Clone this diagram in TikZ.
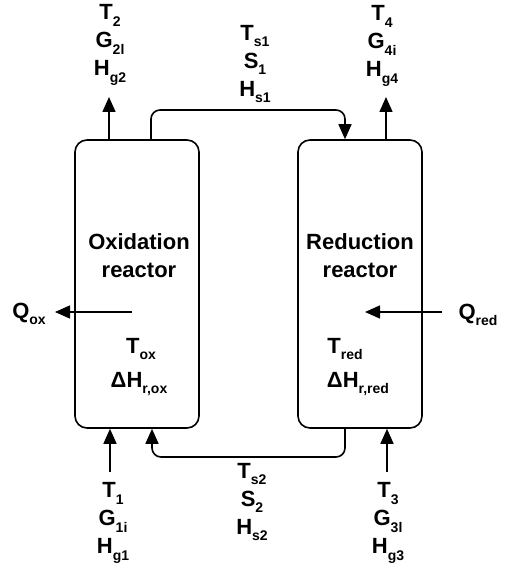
\documentclass[tikz,border=0pt]{standalone}
\usepackage{fontspec}
\setmainfont{Liberation Sans}
\usetikzlibrary{arrows.meta,positioning}
\newcommand\lo[1]{\raisebox{-.55ex}{\fontsize{14}{14}\selectfont #1}}
\tikzset{flow/.style={-{Triangle[length=15pt,width=13pt]},line width=1.6pt},
reactor/.style={draw,line width=1.6pt,rounded corners=12pt,minimum width=124pt,minimum height=288pt},
lbl/.style={align=center,inner sep=0pt,font={\fontsize{22}{28}\selectfont\bfseries}}}
\begin{document}
\begin{tikzpicture}[x=1pt,y=-1pt]
\useasboundingbox (0,0) rectangle (505,567);
\node[reactor] (oxid) at (137,284) {};
\node[reactor] (redu) at (360,284) {};
\node[lbl] (oxname) at (139,256) {Oxidation\\reactor};
\node[lbl] (rdname) at (360,256) {Reduction\\reactor};
\node[lbl] (tox) at (141,349) {T\lo{ox}};
\node[lbl] (hox) at (139,384) {ΔH\lo{r,ox}};
\node[lbl] (trd) at (345,349) {T\lo{red}};
\node[lbl] (hrd) at (358,384) {ΔH\lo{r,red}};
% streams
\node[lbl] (gas2) at (110,45) {T\lo{2}\\G\lo{2l}\\H\lo{g2}};
\node[lbl] (sol1) at (255,64) {T\lo{s1}\\S\lo{1}\\H\lo{s1}};
\node[lbl] (gas4) at (382,46) {T\lo{4}\\G\lo{4i}\\H\lo{g4}};
\node[lbl] (gas1) at (113,523) {T\lo{1}\\G\lo{1i}\\H\lo{g1}};
\node[lbl] (sol2) at (252,502) {T\lo{s2}\\S\lo{2}\\H\lo{s2}};
\node[lbl] (gas3) at (388,523) {T\lo{3}\\G\lo{3l}\\H\lo{g3}};
\node[lbl] (qox) at (29,314) {Q\lo{ox}};
\node[lbl] (qrd) at (478,315) {Q\lo{red}};
\coordinate (out2) at (109,97);
\coordinate (out4) at (386,97);
\coordinate (in1) at (110,472);
\coordinate (in3) at (387,472);
\coordinate (s1a) at (151,110);
\coordinate (s1b) at (345,110);
\coordinate (s2a) at (345,457);
\coordinate (s2b) at (152,457);
\coordinate (qoa) at (132,312);
\coordinate (qob) at (55,312);
\coordinate (qra) at (442,312);
\coordinate (qrb) at (365,312);
\draw[flow] (out2 |- oxid.north) -- (out2);
\draw[flow] (out4 |- redu.north) -- (out4);
\draw[flow] (in1) -- (in1 |- oxid.south);
\draw[flow] (in3) -- (in3 |- redu.south);
\draw[flow,rounded corners=9pt] (s1a |- oxid.north) -- (s1a) -- (s1b) -- (s1b |- redu.north);
\draw[flow,rounded corners=9pt] (s2a |- redu.south) -- (s2a) -- (s2b) -- (s2b |- oxid.south);
\draw[flow] (qoa) -- (qob);
\draw[flow] (qra) -- (qrb);
\end{tikzpicture}
\end{document}
